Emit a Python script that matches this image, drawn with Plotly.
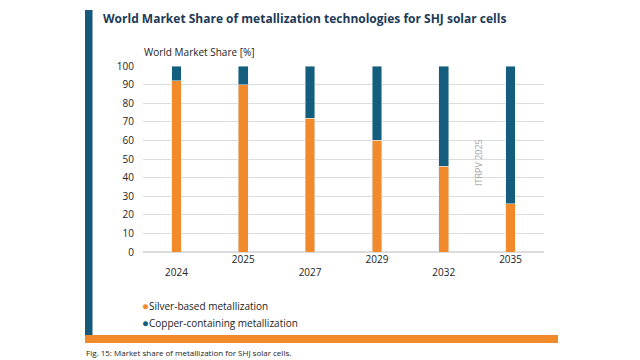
import plotly.graph_objects as go

# ---- data ----
years = ["2024", "2025", "2027", "2029", "2032", "2035"]
silver = [92, 90, 72, 60, 46, 26]
copper = [8, 10, 28, 40, 54, 74]
series_names = ["Silver-based metallization", "Copper-containing metallization"]
y_ticks = [0, 10, 20, 30, 40, 50, 60, 70, 80, 90, 100]

ORANGE = "#F18A2A"
BLUE = "#135E7C"
FONT = "Open Sans"

# the page body adds an 8px offset; work in screen pixels and compensate
OFF = 8
W, H = 640 - OFF, 360 - OFF
L, R, T, B = 143 - OFF, 544 - OFF, 66 - OFF, 252 - OFF


def px(x):
    return (x - OFF - L) / (R - L)


def py(y):
    return (B - (y - OFF)) / (B - T)


fig = go.Figure()
fig.add_trace(go.Bar(x=years, y=silver, name=series_names[0], marker_color=ORANGE,
                     width=0.145, showlegend=False))
fig.add_trace(go.Bar(x=years, y=copper, name=series_names[1], marker_color=BLUE,
                     width=0.145, showlegend=False))

ticktext = [y if i % 2 == 1 else "<br>" + y for i, y in enumerate(years)]

fig.update_layout(
    width=W, height=H,
    barmode="stack",
    paper_bgcolor="white", plot_bgcolor="white",
    margin=dict(l=L, r=W - R, t=T, b=H - B, pad=0),
    font=dict(family=FONT, size=10, color="#333333"),
    showlegend=False,
    xaxis=dict(type="category", tickvals=years, ticktext=ticktext,
               showgrid=False, showline=False, ticks="",
               tickfont=dict(size=10, color="#222222")),
    yaxis=dict(range=[0, 100], tickvals=y_ticks, showgrid=True,
               gridcolor="#dcdcdc", gridwidth=1, zeroline=True,
               zerolinecolor="#dcdcdc", showline=False, ticks="",
               ticklabelstandoff=8,
               tickfont=dict(size=10, color="#222222")),
)

# decorative frame bars
fig.add_shape(type="rect", xref="paper", yref="paper",
              x0=px(85), x1=px(92.5), y0=py(335), y1=py(10),
              fillcolor="#14597A", line_width=0, layer="below")
fig.add_shape(type="rect", xref="paper", yref="paper",
              x0=px(85), x1=px(558), y0=py(343), y1=py(335),
              fillcolor=ORANGE, line_width=0, layer="below")

# title
fig.add_annotation(xref="paper", yref="paper", x=px(101), y=py(18),
                   xanchor="left", yanchor="middle", showarrow=False,
                   text="<b>World Market Share of metallization technologies for SHJ solar cells</b>",
                   font=dict(family=FONT, size=12, color="#1C3A56"))
# y axis title
fig.add_annotation(xref="paper", yref="paper", x=px(142), y=py(52),
                   xanchor="left", yanchor="middle", showarrow=False,
                   text="World Market Share [%]",
                   font=dict(family=FONT, size=10, color="#222222"))
# watermark
fig.add_annotation(xref="paper", yref="paper", x=px(478), y=py(163),
                   xanchor="center", yanchor="middle", showarrow=False,
                   text="ITRPV 2025", textangle=-90,
                   font=dict(family=FONT, size=9, color="#a0a0a0"))
# legend
for i, (name, col) in enumerate(zip(series_names, [ORANGE, BLUE])):
    fig.add_annotation(xref="paper", yref="paper", x=px(140), y=py(305.5 + 16.5 * i),
                       xanchor="left", yanchor="middle", showarrow=False,
                       text=f"<span style='color:{col};font-size:11.5px'>●</span>{name}",
                       font=dict(family=FONT, size=10, color="#222222"))
# caption
fig.add_annotation(xref="paper", yref="paper", x=px(84), y=py(352),
                   xanchor="left", yanchor="middle", showarrow=False,
                   text="Fig. 15: Market share of metallization for SHJ solar cells.",
                   font=dict(family=FONT, size=8, color="#1a1a1a"))

fig.write_html("out.html")
